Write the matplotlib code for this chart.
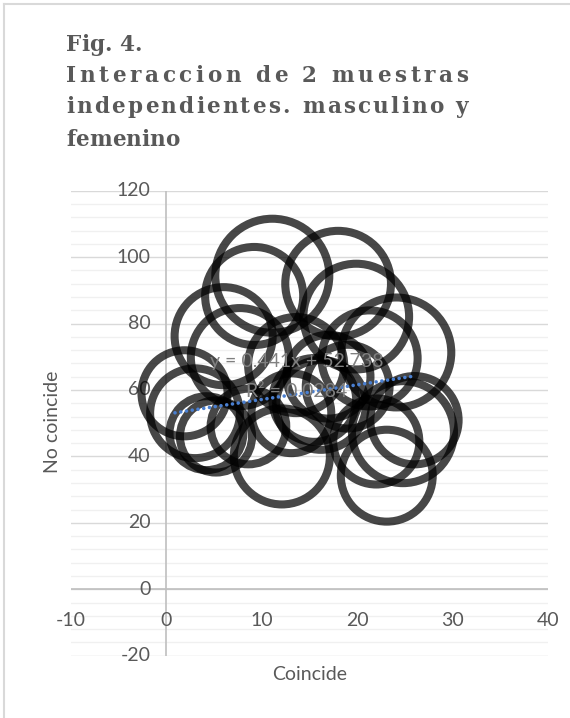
import numpy as np
import matplotlib
matplotlib.use("Agg")
import matplotlib.pyplot as plt
from matplotlib.lines import Line2D
from matplotlib.font_manager import FontProperties, findfont, get_font

# bubble data
coincide = [11.1, 18.0, 9.2, 19.9, 6.0, 24.1, 7.7, 13.6, 21.3, 17.0, 1.9,
            3.0, 4.2, 5.2, 8.6, 12.1, 23.1, 22.0, 24.8, 26.0, 13.1, 15.5,
            16.2, 19.0]
no_coincide = [94.4, 92.0, 88.3, 82.1, 76.2, 71.3, 69.9, 67.5, 69.5, 64.0, 59.0,
               53.0, 47.0, 46.0, 49.0, 40.0, 34.2, 44.5, 47.3, 50.9, 53.0, 57.0,
               55.5, 61.0]
bubble_size = [100, 86, 74, 86, 74, 93, 74, 71, 71, 54, 57,
               62, 42, 40, 44, 71, 65, 57, 80, 60, 49, 54,
               62, 54]

slope, intercept, r2 = 0.441, 52.738, 0.0284

x_ticks = [-10, 0, 10, 20, 30, 40]
y_ticks = [-20, 0, 20, 40, 60, 80, 100, 120]

title_lines = ["Fig. 4.", "Interaccion de 2 muestras",
               "independientes. masculino y", "femenino"]

W, H, DPI = 570, 718, 100
GRAY = "#595959"
plt.rcParams['font.family'] = ['Lato', 'DejaVu Sans']

fig = plt.figure(figsize=(W / DPI, H / DPI), dpi=DPI)
ax = fig.add_axes([71 / W, 1 - 655.7 / H, (548 - 71) / W, (655.7 - 190.7) / H])
ax.set_xlim(-10, 40)
ax.set_ylim(-20, 120)
for s in ax.spines.values():
    s.set_visible(False)
ax.set_xticks([])
ax.set_yticks(y_ticks)
ax.set_yticks(np.arange(-20, 121, 4), minor=True)
ax.tick_params(axis='y', which='both', length=0, labelleft=False)
ax.grid(axis='y', which='minor', color='#f0f0f0', lw=1)
ax.grid(axis='y', which='major', color='#d9d9d9', lw=1)
ax.set_axisbelow(True)
ax.axhline(0, color='#bfbfbf', lw=1.2, zorder=1)
ax.axvline(0, color='#bfbfbf', lw=1.2, zorder=1)

# tick labels next to the crossing axes
for v in x_ticks:
    ax.annotate(str(v), (v, 0), xytext=(0, -22.8), textcoords='offset points',
                ha='center', va='center', fontsize=14, color=GRAY)
for v in y_ticks:
    ax.annotate(str(v), (0, v), xytext=(-11.5, 0), textcoords='offset points',
                ha='right', va='center', fontsize=14, color=GRAY)

# bubbles: largest radius about 57 px
sizes = np.array(bubble_size, dtype=float)
radius_px = 57 * np.sqrt(sizes / sizes.max())
s_pts = (2 * radius_px * 72 / DPI) ** 2
ax.scatter(coincide, no_coincide, s=s_pts, facecolors='none',
           edgecolors=(0, 0, 0, 0.72), linewidths=5.8, zorder=3, clip_on=False)

# linear trendline
xs = np.array([min(coincide) - 1, max(coincide)])
ax.plot(xs, slope * xs + intercept, color='#4a7fd0', lw=2.6,
        linestyle=(0, (0.01, 1.6)), dash_capstyle='round', zorder=4)
ax.text(13.7, 68.5, f"y = {slope}x + {intercept}", ha='center', va='center',
        fontsize=14, color='#808080', zorder=5)
ax.text(13.7, 59.4, f"R² = {r2}", ha='center', va='center',
        fontsize=14, color='#808080', zorder=5)

fig.text(310 / W, 1 - 674 / H, "Coincide", ha='center', va='center',
         fontsize=14, color=GRAY)
fig.text(53 / W, 1 - 422 / H, "No coincide", ha='center', va='center',
         rotation=90, fontsize=14, color=GRAY)

# title, lines 2-3 spread out to full width
tprop = FontProperties(family='DejaVu Serif', weight='bold', size=15.5)
ft = get_font(findfont(tprop))
ft.set_size(15.5, DPI)


def advances(s):
    return [ft.load_char(ord(c)).linearHoriAdvance / 65536 for c in s]


x0, x1 = 66, 468
baselines = [51, 82, 113, 146]
for i, line in enumerate(title_lines):
    adv = advances(line)
    gap = (x1 - x0 - sum(adv)) / (len(line) - 1) if i in (1, 2) else 0
    x = x0
    for c, a in zip(line, adv):
        if c != " ":
            fig.text(x / W, 1 - baselines[i] / H, c, fontproperties=tprop,
                     color=GRAY, ha='left', va='baseline')
        x += a + gap

# light frame of the chart area
fig.add_artist(Line2D([4 / W, 4 / W], [0, 1 - 4 / H], color='#d9d9d9', lw=1.5,
                      transform=fig.transFigure))
fig.add_artist(Line2D([4 / W, 1], [1 - 4 / H, 1 - 4 / H], color='#d9d9d9', lw=1.5,
                      transform=fig.transFigure))

fig.savefig("out.png", dpi=DPI)
